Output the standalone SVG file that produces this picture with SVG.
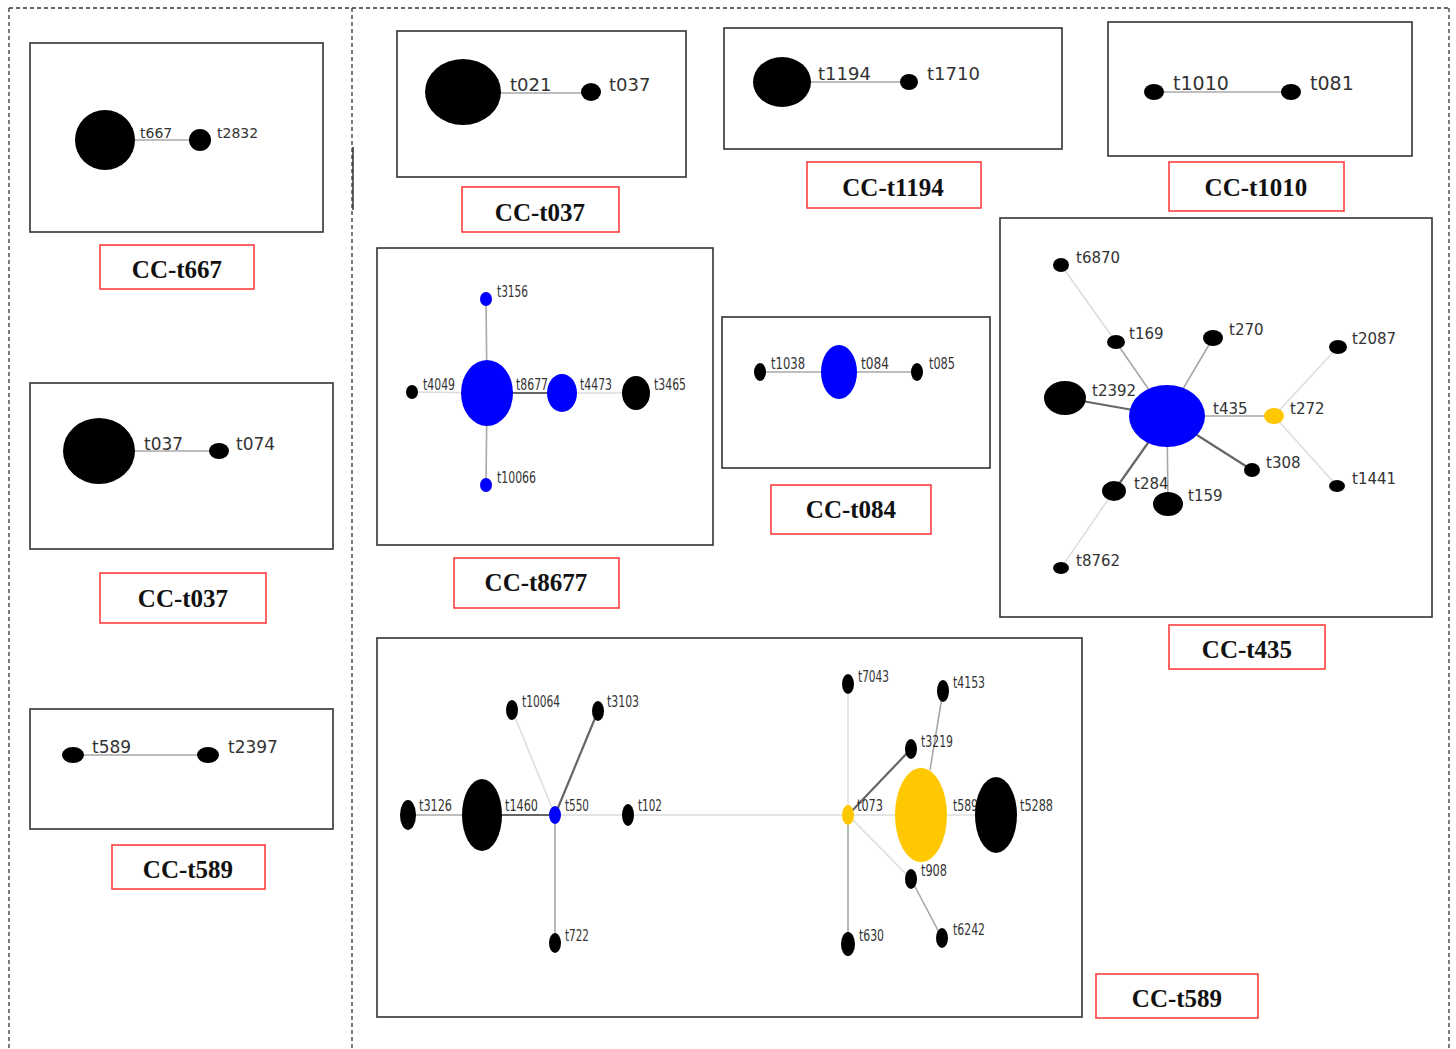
<svg xmlns="http://www.w3.org/2000/svg" width="1456" height="1049" viewBox="0 0 1456 1049">
<style>
.bg{fill:#fff}
.dash{stroke:#333;stroke-width:1.3;stroke-dasharray:4 3;fill:none}
.box{fill:none;stroke:#333;stroke-width:1.6}
.cap{fill:#fff;stroke:#f33;stroke-width:1.5}
.capt{font-family:"Liberation Serif","Times New Roman",serif;font-weight:bold;font-size:25px;text-anchor:middle;fill:#111}
.lbl{font-family:"DejaVu Sans",Verdana,sans-serif;fill:#333}
.nar{font-family:"DejaVu Sans Condensed","DejaVu Sans",sans-serif;fill:#333;font-size:16px}
.e1{stroke:#ddd;stroke-width:1.5;fill:none}
.e2{stroke:#a8a8a8;stroke-width:1.6;fill:none}
.e3{stroke:#666;stroke-width:2.2;fill:none}
.k{fill:#000}
.b{fill:#0000ff}
.y{fill:#ffc800}
</style>
<rect class="bg" x="0" y="0" width="1456" height="1049"/>
<g id="frame">
<line class="dash" x1="9" y1="8" x2="1449" y2="8"/>
<line class="dash" x1="9" y1="8" x2="9" y2="1049"/>
<line class="dash" x1="352" y1="8" x2="352" y2="1049"/>
<line class="dash" x1="1449" y1="8" x2="1449" y2="1049"/>
<line x1="353" y1="147" x2="353" y2="210" stroke="#333" stroke-width="1.5"/>
</g>
<g id="panels">
<rect class="box" x="30" y="43" width="293" height="189"/>
<rect class="box" x="30" y="383" width="303" height="166"/>
<rect class="box" x="30" y="709" width="303" height="120"/>
<rect class="box" x="397" y="31" width="289" height="146"/>
<rect class="box" x="724" y="28" width="338" height="121"/>
<rect class="box" x="1108" y="22" width="304" height="134"/>
<rect class="box" x="377" y="248" width="336" height="297"/>
<rect class="box" x="722" y="317" width="268" height="151"/>
<rect class="box" x="1000" y="218" width="432" height="399"/>
<rect class="box" x="377" y="638" width="705" height="379"/>
</g>
<g id="captions">
<g id="cap-t667"><rect class="cap" x="100" y="245" width="154" height="44"/><text class="capt" x="177" y="278">CC-t667</text></g>
<g id="cap-t037a"><rect class="cap" x="100" y="573" width="166" height="50"/><text class="capt" x="183" y="607">CC-t037</text></g>
<g id="cap-t589a"><rect class="cap" x="112" y="845" width="153" height="44"/><text class="capt" x="188" y="878">CC-t589</text></g>
<g id="cap-t037b"><rect class="cap" x="462" y="187" width="157" height="45"/><text class="capt" x="540" y="221">CC-t037</text></g>
<g id="cap-t1194"><rect class="cap" x="807" y="162" width="174" height="46"/><text class="capt" x="893" y="196">CC-t1194</text></g>
<g id="cap-t1010"><rect class="cap" x="1169" y="162" width="175" height="49"/><text class="capt" x="1256" y="196">CC-t1010</text></g>
<g id="cap-t8677"><rect class="cap" x="454" y="558" width="165" height="50"/><text class="capt" x="536" y="591">CC-t8677</text></g>
<g id="cap-t084"><rect class="cap" x="771" y="485" width="160" height="49"/><text class="capt" x="851" y="518">CC-t084</text></g>
<g id="cap-t435"><rect class="cap" x="1169" y="625" width="156" height="44"/><text class="capt" x="1247" y="658">CC-t435</text></g>
<g id="cap-t589b"><rect class="cap" x="1096" y="974" width="162" height="44"/><text class="capt" x="1177" y="1007">CC-t589</text></g>
</g>
<g id="connectors">
<line class="e2" x1="105" y1="140" x2="200" y2="140"/>
<line class="e2" x1="99" y1="451" x2="219" y2="451"/>
<line class="e2" x1="73" y1="755" x2="208" y2="755"/>
<line class="e2" x1="463" y1="93" x2="591" y2="93"/>
<line class="e2" x1="782" y1="82" x2="909" y2="82"/>
<line class="e2" x1="1154" y1="92" x2="1291" y2="92"/>
<line class="e2" x1="487" y1="393" x2="486" y2="299"/>
<line class="e2" x1="487" y1="393" x2="486" y2="485"/>
<line class="e3" x1="487" y1="393" x2="562" y2="393"/>
<line class="e1" x1="562" y1="393" x2="636" y2="393"/>
<line class="e1" x1="412" y1="392" x2="487" y2="393"/>
<line class="e2" x1="760" y1="372" x2="917" y2="372"/>
<line class="e1" x1="1061" y1="265" x2="1116" y2="342"/>
<line class="e2" x1="1116" y1="342" x2="1167" y2="416"/>
<line class="e2" x1="1213" y1="338" x2="1167" y2="416"/>
<line class="e3" x1="1065" y1="398" x2="1167" y2="416"/>
<line class="e2" x1="1167" y1="416" x2="1274" y2="416"/>
<line class="e1" x1="1274" y1="416" x2="1338" y2="347"/>
<line class="e1" x1="1274" y1="416" x2="1337" y2="486"/>
<line class="e3" x1="1167" y1="416" x2="1252" y2="470"/>
<line class="e3" x1="1167" y1="416" x2="1114" y2="491"/>
<line class="e2" x1="1167" y1="416" x2="1168" y2="504"/>
<line class="e1" x1="1114" y1="491" x2="1061" y2="568"/>
<line class="e2" x1="408" y1="815" x2="482" y2="815"/>
<line class="e3" x1="482" y1="815" x2="555" y2="815"/>
<line class="e1" x1="555" y1="815" x2="512" y2="710"/>
<line class="e3" x1="555" y1="815" x2="598" y2="711"/>
<line class="e1" x1="555" y1="815" x2="628" y2="815"/>
<line class="e2" x1="555" y1="815" x2="555" y2="943"/>
<line class="e1" x1="628" y1="815" x2="848" y2="815"/>
<line class="e1" x1="848" y1="815" x2="848" y2="684"/>
<line class="e2" x1="848" y1="815" x2="848" y2="944"/>
<line class="e3" x1="848" y1="815" x2="911" y2="749"/>
<line class="e1" x1="848" y1="815" x2="921" y2="815"/>
<line class="e1" x1="848" y1="815" x2="911" y2="879"/>
<line class="e2" x1="930" y1="770" x2="943" y2="691"/>
<line class="e1" x1="921" y1="815" x2="996" y2="815"/>
<line class="e2" x1="911" y1="879" x2="942" y2="938"/>
</g>
<g id="n-t667"><circle class="k" cx="105" cy="140" r="30"/><text class="lbl" x="140" y="138" font-size="14">t667</text></g>
<g id="n-t2832"><circle class="k" cx="200" cy="140" r="11"/><text class="lbl" x="217" y="138" font-size="14">t2832</text></g>
<g id="n-t037a"><ellipse class="k" cx="99" cy="451" rx="36" ry="33"/><text class="lbl" x="144" y="450" font-size="17">t037</text></g>
<g id="n-t074"><ellipse class="k" cx="219" cy="451" rx="10" ry="8"/><text class="lbl" x="236" y="450" font-size="17">t074</text></g>
<g id="n-t589a"><ellipse class="k" cx="73" cy="755" rx="11" ry="8"/><text class="lbl" x="92" y="753" font-size="17">t589</text></g>
<g id="n-t2397"><ellipse class="k" cx="208" cy="755" rx="11" ry="8"/><text class="lbl" x="228" y="753" font-size="17">t2397</text></g>
<g id="n-t021"><ellipse class="k" cx="463" cy="92" rx="38" ry="33"/><text class="lbl" x="510" y="91" font-size="18">t021</text></g>
<g id="n-t037b"><ellipse class="k" cx="591" cy="92" rx="10" ry="9"/><text class="lbl" x="609" y="91" font-size="18">t037</text></g>
<g id="n-t1194"><ellipse class="k" cx="782" cy="82" rx="29" ry="25"/><text class="lbl" x="818" y="80" font-size="18">t1194</text></g>
<g id="n-t1710"><ellipse class="k" cx="909" cy="82" rx="9" ry="8"/><text class="lbl" x="927" y="80" font-size="18">t1710</text></g>
<g id="n-t1010"><ellipse class="k" cx="1154" cy="92" rx="10" ry="8"/><text class="lbl" x="1173" y="90" font-size="19">t1010</text></g>
<g id="n-t081"><ellipse class="k" cx="1291" cy="92" rx="10" ry="8"/><text class="lbl" x="1310" y="90" font-size="19">t081</text></g>
<g id="n-t8677"><ellipse class="b" cx="487" cy="393" rx="26" ry="33"/><text class="nar" x="516" y="390" textLength="32" lengthAdjust="spacingAndGlyphs">t8677</text></g>
<g id="n-t4473"><ellipse class="b" cx="562" cy="393" rx="15" ry="19"/><text class="nar" x="580" y="390" textLength="32" lengthAdjust="spacingAndGlyphs">t4473</text></g>
<g id="n-t3465"><ellipse class="k" cx="636" cy="393" rx="14" ry="17"/><text class="nar" x="654" y="390" textLength="32" lengthAdjust="spacingAndGlyphs">t3465</text></g>
<g id="n-t4049"><ellipse class="k" cx="412" cy="392" rx="6" ry="7"/><text class="nar" x="423" y="390" textLength="32" lengthAdjust="spacingAndGlyphs">t4049</text></g>
<g id="n-t3156"><ellipse class="b" cx="486" cy="299" rx="6" ry="7"/><text class="nar" x="497" y="297" textLength="31" lengthAdjust="spacingAndGlyphs">t3156</text></g>
<g id="n-t10066"><ellipse class="b" cx="486" cy="485" rx="6" ry="7"/><text class="nar" x="497" y="483" textLength="39" lengthAdjust="spacingAndGlyphs">t10066</text></g>
<g id="n-t1038"><ellipse class="k" cx="760" cy="372" rx="6" ry="9"/><text class="nar" x="771" y="369" font-size="17" textLength="34" lengthAdjust="spacingAndGlyphs">t1038</text></g>
<g id="n-t084"><ellipse class="b" cx="839" cy="372" rx="18" ry="27"/><text class="nar" x="861" y="369" font-size="17" textLength="28" lengthAdjust="spacingAndGlyphs">t084</text></g>
<g id="n-t085"><ellipse class="k" cx="917" cy="372" rx="6" ry="9"/><text class="nar" x="929" y="369" font-size="17" textLength="26" lengthAdjust="spacingAndGlyphs">t085</text></g>
<g id="n-t435"><ellipse class="b" cx="1167" cy="416" rx="38" ry="31"/><text class="lbl" x="1213" y="414" font-size="15">t435</text></g>
<g id="n-t6870"><ellipse class="k" cx="1061" cy="265" rx="8" ry="7"/><text class="lbl" x="1076" y="263" font-size="15">t6870</text></g>
<g id="n-t169"><ellipse class="k" cx="1116" cy="342" rx="9" ry="7"/><text class="lbl" x="1129" y="339" font-size="15">t169</text></g>
<g id="n-t270"><ellipse class="k" cx="1213" cy="338" rx="10" ry="8"/><text class="lbl" x="1229" y="335" font-size="15">t270</text></g>
<g id="n-t2087"><ellipse class="k" cx="1338" cy="347" rx="9" ry="7"/><text class="lbl" x="1352" y="344" font-size="15">t2087</text></g>
<g id="n-t2392"><ellipse class="k" cx="1065" cy="398" rx="21" ry="17"/><text class="lbl" x="1092" y="396" font-size="15">t2392</text></g>
<g id="n-t272"><ellipse class="y" cx="1274" cy="416" rx="10" ry="8"/><text class="lbl" x="1290" y="414" font-size="15">t272</text></g>
<g id="n-t308"><ellipse class="k" cx="1252" cy="470" rx="8" ry="7"/><text class="lbl" x="1266" y="468" font-size="15">t308</text></g>
<g id="n-t1441"><ellipse class="k" cx="1337" cy="486" rx="8" ry="6"/><text class="lbl" x="1352" y="484" font-size="15">t1441</text></g>
<g id="n-t284"><ellipse class="k" cx="1114" cy="491" rx="12" ry="10"/><text class="lbl" x="1134" y="489" font-size="15">t284</text></g>
<g id="n-t159"><ellipse class="k" cx="1168" cy="504" rx="15" ry="12"/><text class="lbl" x="1188" y="501" font-size="15">t159</text></g>
<g id="n-t8762"><ellipse class="k" cx="1061" cy="568" rx="8" ry="6"/><text class="lbl" x="1076" y="566" font-size="15">t8762</text></g>
<g id="n-t3126"><ellipse class="k" cx="408" cy="815" rx="8" ry="15"/><text class="nar" x="419" y="811" textLength="33" lengthAdjust="spacingAndGlyphs">t3126</text></g>
<g id="n-t1460"><ellipse class="k" cx="482" cy="815" rx="20" ry="36"/><text class="nar" x="505" y="811" textLength="33" lengthAdjust="spacingAndGlyphs">t1460</text></g>
<g id="n-t550"><ellipse class="b" cx="555" cy="815" rx="6" ry="9"/><text class="nar" x="565" y="811" textLength="24" lengthAdjust="spacingAndGlyphs">t550</text></g>
<g id="n-t10064"><ellipse class="k" cx="512" cy="710" rx="6" ry="10"/><text class="nar" x="522" y="707" textLength="38" lengthAdjust="spacingAndGlyphs">t10064</text></g>
<g id="n-t3103"><ellipse class="k" cx="598" cy="711" rx="6" ry="10"/><text class="nar" x="607" y="707" textLength="32" lengthAdjust="spacingAndGlyphs">t3103</text></g>
<g id="n-t102"><ellipse class="k" cx="628" cy="815" rx="6" ry="11"/><text class="nar" x="638" y="811" textLength="24" lengthAdjust="spacingAndGlyphs">t102</text></g>
<g id="n-t722"><ellipse class="k" cx="555" cy="943" rx="6" ry="10"/><text class="nar" x="565" y="941" textLength="24" lengthAdjust="spacingAndGlyphs">t722</text></g>
<g id="n-t073"><ellipse class="y" cx="848" cy="815" rx="6" ry="10"/><text class="nar" x="857" y="811" textLength="26" lengthAdjust="spacingAndGlyphs">t073</text></g>
<g id="n-t7043"><ellipse class="k" cx="848" cy="684" rx="6" ry="10"/><text class="nar" x="858" y="682" textLength="31" lengthAdjust="spacingAndGlyphs">t7043</text></g>
<g id="n-t630"><ellipse class="k" cx="848" cy="944" rx="7" ry="12"/><text class="nar" x="859" y="941" textLength="25" lengthAdjust="spacingAndGlyphs">t630</text></g>
<g id="n-t3219"><ellipse class="k" cx="911" cy="749" rx="6" ry="10"/><text class="nar" x="921" y="747" textLength="32" lengthAdjust="spacingAndGlyphs">t3219</text></g>
<g id="n-t4153"><ellipse class="k" cx="943" cy="691" rx="6" ry="11"/><text class="nar" x="953" y="688" textLength="32" lengthAdjust="spacingAndGlyphs">t4153</text></g>
<g id="n-t589b"><ellipse class="y" cx="921" cy="815" rx="26" ry="47"/><text class="nar" x="953" y="811" textLength="25" lengthAdjust="spacingAndGlyphs">t589</text></g>
<g id="n-t5288"><ellipse class="k" cx="996" cy="815" rx="21" ry="38"/><text class="nar" x="1020" y="811" textLength="33" lengthAdjust="spacingAndGlyphs">t5288</text></g>
<g id="n-t908"><ellipse class="k" cx="911" cy="879" rx="6" ry="10"/><text class="nar" x="921" y="876" textLength="26" lengthAdjust="spacingAndGlyphs">t908</text></g>
<g id="n-t6242"><ellipse class="k" cx="942" cy="938" rx="6" ry="10"/><text class="nar" x="953" y="935" textLength="32" lengthAdjust="spacingAndGlyphs">t6242</text></g>
</svg>
